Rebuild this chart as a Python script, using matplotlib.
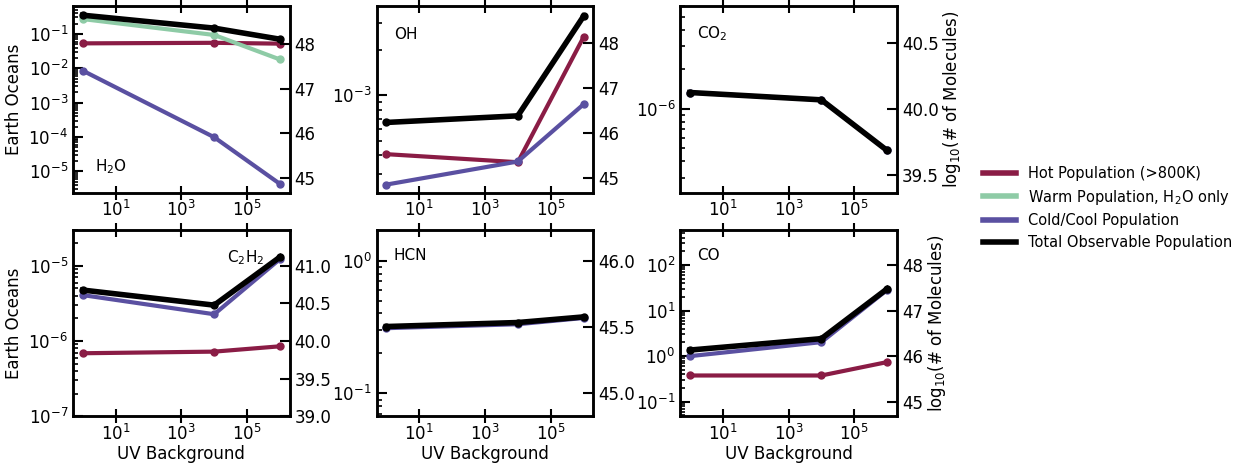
import numpy as np
import matplotlib
matplotlib.use("Agg")
import matplotlib.pyplot as plt
from matplotlib import ticker
from matplotlib.lines import Line2D

# UV background values (x)
uv = [1, 1e4, 1e6]

# Earth oceans per population
h2o_hot = [0.053, 0.055, 0.052]
h2o_warm = [0.27, 0.093, 0.018]
h2o_cold = [0.0085, 9.8e-5, 4.3e-6]
h2o_total = [0.35, 0.147, 0.070]

oh_hot = [4.07e-4, 3.6e-4, 2.42e-3]
oh_cold = [2.56e-4, 3.64e-4, 8.7e-4]
oh_total = [6.6e-4, 7.3e-4, 3.33e-3]

co2_cold = [1.33e-6, 1.17e-6, 4.83e-7]
co2_total = [1.33e-6, 1.17e-6, 4.83e-7]

c2h2_hot = [6.87e-7, 7.22e-7, 8.5e-7]
c2h2_cold = [4.08e-6, 2.27e-6, 1.23e-5]
c2h2_total = [4.76e-6, 3.0e-6, 1.31e-5]

hcn_cold = [0.31, 0.332, 0.37]
hcn_total = [0.319, 0.342, 0.377]

co_hot = [0.376, 0.376, 0.74]
co_cold = [1.0, 2.03, 28.4]
co_total = [1.36, 2.42, 30.0]

species = ["H$_2$O", "OH", "CO$_2$", "C$_2$H$_2$", "HCN", "CO"]
legend_labels = ["Hot Population (>800K)", "Warm Population, H$_2$O only",
                 "Cold/Cool Population", "Total Observable Population"]

# log10 limits of the left (oceans) and right (molecules) axes
left_lims = [(-5.62, -0.19), (-3.645, -2.41), (-6.636, -5.22),
             (-7.0, -4.517), (-1.171, 0.234), (-1.317, 2.778)]
right_lims = [(44.67, 48.85), (44.675, 48.81), (39.364, 40.78),
              (39.0, 41.483), (44.829, 46.234), (44.683, 48.778)]

label_pos = [(0.10, 0.14), (0.08, 0.85), (0.08, 0.85),
             (0.71, 0.85), (0.08, 0.86), (0.08, 0.86)]

c_hot = "#8a1c45"
c_warm = "#8ecba6"
c_cold = "#5a50a1"
c_tot = "black"

data = [
    {"hot": h2o_hot, "warm": h2o_warm, "cold": h2o_cold, "total": h2o_total},
    {"hot": oh_hot, "cold": oh_cold, "total": oh_total},
    {"cold": co2_cold, "total": co2_total},
    {"hot": c2h2_hot, "cold": c2h2_cold, "total": c2h2_total},
    {"cold": hcn_cold, "total": hcn_total},
    {"hot": co_hot, "cold": co_cold, "total": co_total},
]

plt.rcParams["font.size"] = 12

fig, axes = plt.subplots(2, 3, figsize=(12.43, 4.66), dpi=100)
fig.subplots_adjust(left=0.0587, right=0.7216, top=0.987, bottom=0.107,
                    wspace=0.40, hspace=0.198)

for i, ax in enumerate(axes.flat):
    d = data[i]
    if "hot" in d:
        ax.plot(uv, d["hot"], "-o", color=c_hot, lw=3, ms=5)
    if "warm" in d:
        ax.plot(uv, d["warm"], "-o", color=c_warm, lw=3, ms=5)
    ax.plot(uv, d["cold"], "-o", color=c_cold, lw=3, ms=5)
    ax.plot(uv, d["total"], "-o", color=c_tot, lw=4, ms=5)

    ax.set_xscale("log")
    ax.set_yscale("log")
    ax.set_xlim(10**-0.3, 10**6.3)
    lo, hi = left_lims[i]
    ax.set_ylim(10**lo, 10**hi)
    ax.set_xticks([1e1, 1e3, 1e5])
    ax.xaxis.set_minor_locator(ticker.NullLocator())
    ax.yaxis.set_minor_formatter(ticker.NullFormatter())

    ax.tick_params(axis="x", which="major", direction="inout", length=10,
                   width=1.5, top=True, bottom=True, labelsize=12, pad=0.5)
    ax.tick_params(axis="y", which="major", direction="in", length=7,
                   width=1.5, labelsize=12)
    ax.tick_params(axis="y", which="minor", direction="in", length=3.5,
                   width=1.2)
    for sp in ax.spines.values():
        sp.set_linewidth(1.8)

    ax.text(label_pos[i][0], label_pos[i][1], species[i], transform=ax.transAxes,
            fontsize=11, va="center", ha="left")

    ax2 = ax.twinx()
    ax2.set_ylim(*right_lims[i])
    ax2.yaxis.set_major_locator(ticker.MaxNLocator(nbins=5, steps=[1, 5, 10]))
    ax2.tick_params(axis="y", direction="in", length=7, width=1.5, labelsize=12)
    for sp in ax2.spines.values():
        sp.set_linewidth(1.8)

    if i % 3 == 0:
        ax.set_ylabel("Earth Oceans")
    if i % 3 == 2:
        ax2.set_ylabel("log$_{10}$(# of Molecules)", labelpad=2)
    if i >= 3:
        ax.set_xlabel("UV Background", labelpad=1)

handles = [Line2D([], [], color=c, lw=4) for c in (c_hot, c_warm, c_cold, c_tot)]
fig.legend(handles, legend_labels, loc="center left", bbox_to_anchor=(0.780, 0.554),
           frameon=False, fontsize=10.5, handlelength=2.3, labelspacing=0.45)

fig.savefig("out.png", dpi=100)
